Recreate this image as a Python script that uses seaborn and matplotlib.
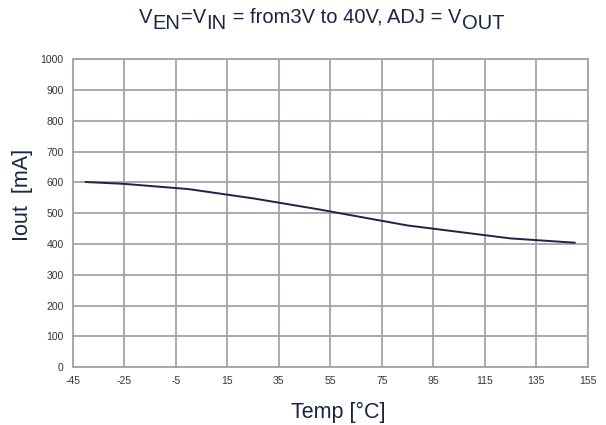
import numpy as np
import pandas as pd
import seaborn as sns
import matplotlib.pyplot as plt

temp = [-40, -25, 0, 25, 50, 85, 125, 150]
iout = [601, 595, 578, 548, 513, 460, 418, 404]
xticks = list(range(-45, 156, 20))
yticks = list(range(0, 1001, 100))
title_parts = [('V', False), ('EN', True), ('=V', False), ('IN', True),
               (' = from3V to 40V, ADJ = V', False), ('OUT', True)]

df = pd.DataFrame({'Temp': temp, 'Iout': iout})

sns.set_style('whitegrid')
plt.rcParams['font.family'] = ['Liberation Sans', 'DejaVu Sans']
plt.rcParams['axes.unicode_minus'] = False

fig = plt.figure(figsize=(6.06, 4.25), dpi=100)
ax = fig.add_axes([0.120, 0.136, 0.850, 0.725])
grid_c = '#a3a4ab'
ink = '#1b2444'
sns.lineplot(data=df, x='Temp', y='Iout', ax=ax, color=ink, linewidth=1.4)

ax.set_xlim(-45, 155)
ax.set_ylim(0, 1000)
ax.set_xticks(xticks)
ax.set_yticks(yticks)
ax.grid(True, color=grid_c, linewidth=1.3)
for s in ax.spines.values():
    s.set_color(grid_c)
    s.set_linewidth(1.3)
ax.tick_params(axis='both', labelsize=7.5, colors='#333344', length=3, width=1, direction='out')
ax.tick_params(axis='both', color=grid_c)
ax.set_xlabel('Temp [°C]', fontsize=15.5, color=ink)
ax.set_ylabel('Iout  [mA]', fontsize=15.5, color=ink)
ax.xaxis.set_label_coords(0.515, -0.114)
ax.yaxis.set_label_coords(-0.078, 0.56)

# title: subscripts nearly full size, dropped below the baseline
prev = fig.text(0.229, 0.946, title_parts[0][0], fontsize=14.5, color=ink,
                ha='left', va='baseline')
for txt, sub in title_parts[1:]:
    dy = -4.5 if sub else 0
    prev = ax.annotate(txt, xy=(1, 0), xycoords=prev, xytext=(0.3, dy),
                       textcoords='offset points', fontsize=14.5,
                       color=ink, ha='left', va='bottom', annotation_clip=False)
    if sub:
        # invisible anchor to bring the next piece back up to the baseline
        prev = ax.annotate('', xy=(1, 0), xycoords=prev, xytext=(0, 4.5),
                           textcoords='offset points', va='bottom',
                           fontsize=1, annotation_clip=False)

fig.savefig('out.png', dpi=100)
